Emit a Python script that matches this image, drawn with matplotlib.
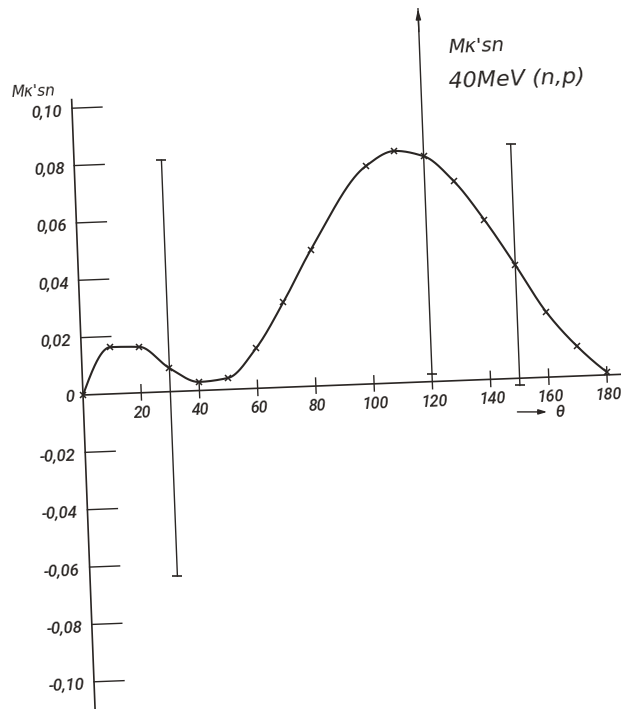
import numpy as np
import matplotlib
matplotlib.use("Agg")
import matplotlib.pyplot as plt
from matplotlib.transforms import Affine2D

# Angular distribution of M_k'sn, 40 MeV (n,p)
theta = [0, 10, 20, 30, 40, 50, 60, 70, 80, 100, 110, 120, 130, 140, 150, 160, 170, 180]
m_values = [0.0, 0.0163, 0.0160, 0.0082, 0.0030, 0.0040, 0.0140, 0.0297, 0.0474,
            0.0759, 0.0808, 0.0786, 0.0695, 0.0556, 0.0395, 0.0227, 0.0105, 0.0010]

# error bars: angle and half-width
err_theta = [30, 120, 150]
err_half = [0.0725, 0.076, 0.042]

x_ticks = [20, 40, 60, 80, 100, 120, 140, 160, 180]
x_tick_labels = ["20", "40", "60", "80", "100", "120", "140", "160", "180"]
y_ticks = [0.10, 0.08, 0.06, 0.04, 0.02, -0.02, -0.04, -0.06, -0.08, -0.10]
y_tick_labels = ["0,10", "0,08", "0,06", "0,04", "0,02",
                 "-0,02", "-0,04", "-0,06", "-0,08", "-0,10"]

INK = "#2a2624"
W, H = 621, 709
DEG_PX = 2.913          # pixels per degree
UNIT_PX = 2870.0        # pixels per unit of M
ORIGIN = (83.0, 395.0)  # origin position, pixels from top-left
TILT = 2.2              # the sheet sits slightly rotated
M_TOP = 0.13            # bars running past this get an arrow

LABEL_FONT = dict(family=["Roboto", "DejaVu Sans"], style="italic",
                  weight="medium", color=INK)
TITLE_FONT = dict(family=["DejaVu Sans"], style="italic", color=INK)


def smooth(x, y, n=900):
    """Monotone cubic (Fritsch-Carlson) curve through the points."""
    x = np.asarray(x, float)
    y = np.asarray(y, float)
    h = np.diff(x)
    delta = np.diff(y) / h
    k = len(x)
    m = np.zeros(k)
    for i in range(1, k - 1):
        if delta[i - 1] * delta[i] > 0:
            w1 = 2 * h[i] + h[i - 1]
            w2 = h[i] + 2 * h[i - 1]
            m[i] = (w1 + w2) / (w1 / delta[i - 1] + w2 / delta[i])
    m[0] = ((2 * h[0] + h[1]) * delta[0] - h[0] * delta[1]) / (h[0] + h[1])
    if np.sign(m[0]) != np.sign(delta[0]):
        m[0] = 0.0
    elif np.sign(delta[0]) != np.sign(delta[1]) and abs(m[0]) > 3 * abs(delta[0]):
        m[0] = 3 * delta[0]
    m[-1] = ((2 * h[-1] + h[-2]) * delta[-1] - h[-1] * delta[-2]) / (h[-1] + h[-2])
    if np.sign(m[-1]) != np.sign(delta[-1]):
        m[-1] = 0.0
    xs = np.linspace(x[0], x[-1], n)
    idx = np.clip(np.searchsorted(x, xs, side="right") - 1, 0, k - 2)
    t = (xs - x[idx]) / h[idx]
    h00 = 2 * t ** 3 - 3 * t ** 2 + 1
    h10 = t ** 3 - 2 * t ** 2 + t
    h01 = -2 * t ** 3 + 3 * t ** 2
    h11 = t ** 3 - t ** 2
    ys = (h00 * y[idx] + h10 * h[idx] * m[idx]
          + h01 * y[idx + 1] + h11 * h[idx] * m[idx + 1])
    return xs, ys


fig = plt.figure(figsize=(W / 100, H / 100), dpi=100)
fig.patch.set_facecolor("white")
ax = fig.add_axes([0, 0, 1, 1])
ax.set_xlim(-ORIGIN[0] / DEG_PX, (W - ORIGIN[0]) / DEG_PX)
ax.set_ylim(-(H - ORIGIN[1]) / UNIT_PX, ORIGIN[1] / UNIT_PX)
ax.axis("off")

ox, oy = ax.transData.transform((0, 0))
tr = ax.transData + Affine2D().rotate_deg_around(ox, oy, TILT)

# axes
ax.plot([0, 0], [-0.13, 0.103], color=INK, lw=1.2, transform=tr)
ax.plot([0, 190], [0, 0], color=INK, lw=1.2, transform=tr)

# y ticks: long strokes to the right of the axis
tick_len = 10.3
for yv, lab in zip(y_ticks, y_tick_labels):
    ax.plot([0, tick_len], [yv, yv], color=INK, lw=1.0, transform=tr)
    ax.text(-3.4, yv - 0.001, lab, ha="right", va="center", transform=tr,
            rotation=TILT, rotation_mode="anchor", size=12, **LABEL_FONT)
ax.text(-4.5, -0.0005, "0", ha="center", va="center", transform=tr,
        rotation=TILT, rotation_mode="anchor", size=12, **LABEL_FONT)

# x ticks: short strokes crossing the axis
for xv, lab in zip(x_ticks, x_tick_labels):
    ax.plot([xv, xv], [-0.0025, 0.0028], color=INK, lw=1.0, transform=tr)
    ax.text(xv + 0.3, -0.007, lab, ha="center", va="center", transform=tr,
            rotation=TILT, rotation_mode="anchor", size=11.5, **LABEL_FONT)

# curve and measured points
xs, ys = smooth(theta, m_values)
ax.plot(xs, ys, color=INK, lw=1.5, transform=tr, solid_capstyle="round")
ax.plot(theta, m_values, linestyle="none", marker="x", ms=4.5, mew=1.1,
        color=INK, transform=tr)

# error bars
m_lookup = dict(zip(theta, m_values))
for et, eh in zip(err_theta, err_half):
    centre = m_lookup[et]
    lo, hi = centre - eh, centre + eh
    ax.plot([et, et], [lo, min(hi, M_TOP)], color=INK, lw=1.0, transform=tr)
    ax.plot([et], [lo], marker="_", ms=7.5, mew=1.2, color=INK, transform=tr)
    if hi > M_TOP:
        ax.annotate("", xy=(et, M_TOP), xytext=(et, M_TOP - 0.008),
                    xycoords=tr, textcoords=tr,
                    arrowprops=dict(arrowstyle="-|>,head_length=0.6,head_width=0.15",
                                    color=INK, lw=1.0, shrinkA=0, shrinkB=0))
    else:
        ax.plot([et], [hi], marker="_", ms=7.5, mew=1.2, color=INK, transform=tr)

# axis labels and caption
ax.text(-20.5, 0.1047, "Mκ'sn", ha="left", va="baseline", transform=tr,
        rotation=TILT, rotation_mode="anchor", size=11, **TITLE_FONT)
ax.text(129.8, 0.1142, "Mκ'sn", ha="left", va="baseline", transform=tr,
        rotation=TILT, rotation_mode="anchor", size=14, **TITLE_FONT)
ax.text(129.4, 0.1020, "40MeV (n,p)", ha="left", va="baseline", transform=tr,
        rotation=TILT, rotation_mode="anchor", size=16, **TITLE_FONT)

ax.annotate("", xy=(159.0, -0.0121), xytext=(148.8, -0.0117),
            xycoords=tr, textcoords=tr,
            arrowprops=dict(arrowstyle="-|>,head_length=0.5,head_width=0.15",
                            color=INK, lw=1.0, shrinkA=0, shrinkB=0))
ax.text(163.3, -0.0123, "θ", ha="center", va="center", transform=tr,
        rotation=TILT, rotation_mode="anchor", size=12, **LABEL_FONT)

fig.savefig("out.png", dpi=100, facecolor="white")
